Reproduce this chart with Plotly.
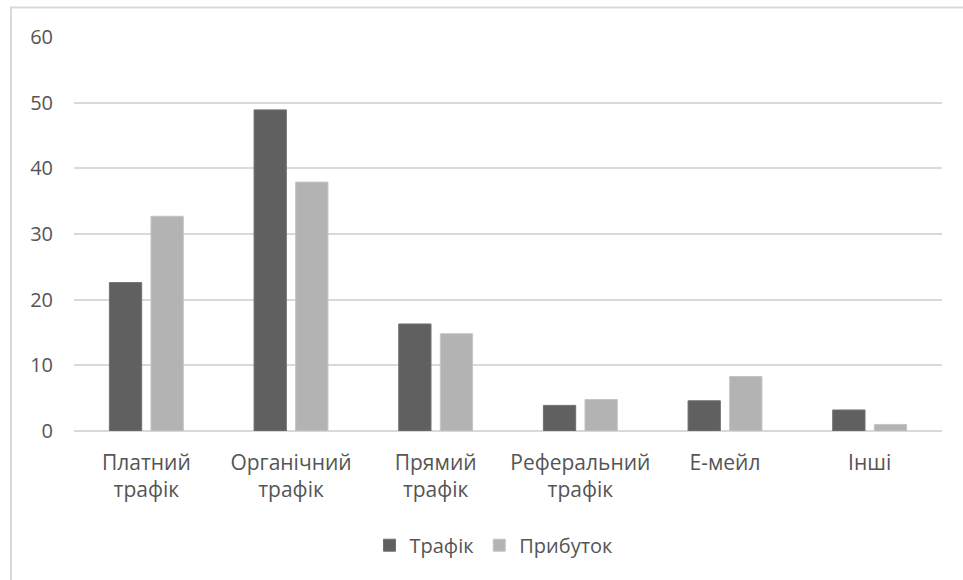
import plotly.graph_objects as go

# Traffic sources and their shares (%)
categories = ["Платний<br>трафік", "Органічний<br>трафік", "Прямий<br>трафік",
              "Реферальний<br>трафік", "Е-мейл", "Інші"]
traffic = [22.6, 48.9, 16.3, 3.9, 4.6, 3.2]
revenue = [32.7, 37.9, 14.8, 4.8, 8.3, 1.0]
y_ticks = [0, 10, 20, 30, 40, 50, 60]

FONT = "Open Sans"
TEXT = "#555555"
GRID = "#d9d9d9"
SIZE = 20

fig = go.Figure()
fig.add_trace(go.Bar(
    name="Трафік", x=categories, y=traffic,
    marker=dict(color="#606060", line=dict(color="#707070", width=1)),
))
fig.add_trace(go.Bar(
    name="Прибуток", x=categories, y=revenue,
    marker=dict(color="#b3b3b3", line=dict(color="#c4c4c4", width=1)),
))

W, H = 963, 580
L, R, T, B = 74, 21, 36.5, 148.5
pw, ph = W - L - R, H - T - B

def px_x(px):
    return (px - L) / pw

def px_y(py):
    return (H - B - py) / ph

fig.update_layout(
    width=W, height=H,
    margin=dict(l=L, r=R, t=T, b=B, autoexpand=False),
    paper_bgcolor="white", plot_bgcolor="white",
    barmode="group", bargap=0.425, bargroupgap=0.224,
    font=dict(family=FONT, size=SIZE, color=TEXT),
    showlegend=True,
    legend=dict(
        orientation="h", x=px_x(494), xanchor="center",
        y=px_y(546), yanchor="middle",
        font=dict(family=FONT, size=SIZE, color=TEXT),
        itemwidth=30, traceorder="normal",
    ),
    xaxis=dict(
        showgrid=False, showline=False, ticks="",
        tickfont=dict(family=FONT, size=21, color=TEXT),
        ticklabelstandoff=17,
    ),
    yaxis=dict(
        range=[0, 60], tickvals=y_ticks, showline=False, ticks="",
        gridcolor=GRID, gridwidth=2, zeroline=True, zerolinecolor=GRID,
        zerolinewidth=2,
        tickfont=dict(family=FONT, size=SIZE, color=TEXT),
        ticklabelstandoff=20,
    ),
    shapes=[dict(
        type="rect", xref="paper", yref="paper",
        x0=px_x(11), x1=px_x(1000), y0=px_y(620), y1=px_y(7),
        line=dict(color=GRID, width=2), fillcolor="rgba(0,0,0,0)", layer="below",
    )],
)

fig.write_html("out.html")
